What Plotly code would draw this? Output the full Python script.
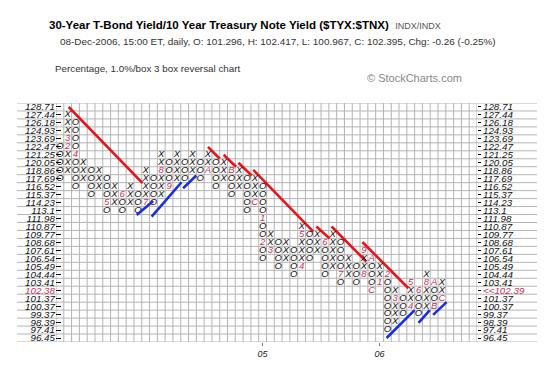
import plotly.graph_objects as go

# ---------------- data ----------------
box_values = [128.71, 127.44, 126.18, 124.93, 123.69, 122.47, 121.25, 120.05, 118.86, 117.69,
              116.52, 115.37, 114.23, 113.1, 111.98, 110.87, 109.77, 108.68, 107.61, 106.54,
              105.49, 104.44, 103.41, 102.38, 101.37, 100.37, 99.37, 98.39, 97.41, 96.45]
box_labels = ["128.71", "127.44", "126.18", "124.93", "123.69", "122.47", "121.25", "120.05", "118.86", "117.69",
              "116.52", "115.37", "114.23", "113.1", "111.98", "110.87", "109.77", "108.68", "107.61", "106.54",
              "105.49", "104.44", "103.41", "102.38", "101.37", "100.37", "99.37", "98.39", "97.41", "96.45"]
last_box = 102.38
last_label = "<<102.39"

col_kind = ["O", "X", "O", "X", "O", "X", "O", "X", "O", "X",
            "O", "X", "O", "X", "O", "X", "O", "X", "O", "X",
            "O", "X", "O", "X", "O", "X", "O", "X", "O", "X",
            "O", "X", "O", "X", "O", "X", "O", "X", "O", "X",
            "O", "X", "O", "X", "O", "X", "O", "X", "O", "X"]
col_high = [122.47, 127.44, 126.18, 120.05, 118.86, 118.86, 117.69, 116.52, 115.37, 116.52,
            115.37, 118.86, 117.69, 121.25, 120.05, 121.25, 120.05, 121.25, 120.05, 121.25,
            120.05, 120.05, 118.86, 118.86, 117.69, 117.69, 116.52, 109.77, 108.68, 108.68,
            107.61, 110.87, 109.77, 109.77, 108.68, 109.77, 108.68, 106.54, 105.49, 107.61,
            106.54, 105.49, 104.44, 102.38, 101.37, 103.41, 102.38, 104.44, 103.41, 103.41]
col_low = [117.69, 118.86, 116.52, 117.69, 115.37, 116.52, 113.1, 114.23, 113.1, 114.23,
           113.1, 114.23, 114.23, 115.37, 116.52, 117.69, 117.69, 118.86, 117.69, 118.86,
           116.52, 117.69, 115.37, 116.52, 113.1, 114.23, 106.54, 107.61, 105.49, 106.54,
           104.44, 105.49, 106.54, 107.61, 104.44, 105.49, 103.41, 104.44, 103.41, 104.44,
           102.38, 103.41, 97.41, 98.39, 99.37, 100.37, 99.37, 100.37, 100.37, 101.37]

# month markers (column, box value, month code)
month_col = [1, 1, 2, 6, 8, 11, 13, 14, 19, 22, 25,
             26, 26, 27, 31, 31, 34, 36, 39, 39, 40, 40,
             41, 42, 43, 45, 45, 46, 47, 48, 48, 49]
month_val = [123.69, 122.47, 121.25, 114.23, 115.37, 114.23, 118.86, 116.52, 118.86, 118.86, 114.23,
             111.98, 108.68, 107.61, 105.49, 109.77, 108.68, 104.44, 104.44, 107.61, 106.54, 102.38,
             103.41, 104.44, 101.37, 100.37, 103.41, 102.38, 103.41, 103.41, 100.37, 101.37]
month_txt = ["3", "2", "4", "5", "6", "7", "8", "9", "A", "B", "C",
             "1", "2", "3", "4", "5", "6", "7", "8", "9", "A", "C",
             "1", "2", "3", "4", "5", "6", "8", "A", "B", "C"]

year_cols = [26, 41]
year_labels = ["05", "06"]

# trend lines: column position / box-row position of the end points
red_col = [[1.13, 10.6], [19.0, 20.5], [21.0, 22.6], [22.9, 24.6], [24.8, 32.5],
           [32.9, 34.6], [34.85, 39.3], [38.8, 44.7]]
red_row = [[0.0, 9.55], [5.0, 6.5], [6.0, 7.5], [7.0, 8.6], [7.9, 15.65],
           [15.0, 16.5], [15.0, 19.4], [16.95, 22.75]]
blue_col = [[9.85, 11.97], [11.77, 15.6], [15.8, 17.5], [41.9, 45.5], [46.0, 47.45], [47.87, 49.6]]
blue_row = [[13.55, 11.8], [13.77, 9.45], [10.2, 8.6], [29.0, 25.5], [27.1, 25.5], [26.1, 24.5]]

title_main = "30-Year T-Bond Yield/10 Year Treasury Note Yield ($TYX:$TNX)"
title_tag = "INDX/INDX"
title_sub = "08-Dec-2006, 15:00 ET, daily, O: 101.296, H: 102.417, L: 100.967, C: 102.395, Chg: -0.26 (-0.25%)"
chart_note = "Percentage, 1.0%/box 3 box reversal chart"
credit = "© StockCharts.com"

# ---------------- build ----------------
FONT = "Liberation Sans, Arial, sans-serif"
MONTH_COLOR = "#c8325a"
n_cols = 54
row_of = {v: i for i, v in enumerate(box_values)}
marks = {(c, row_of[v]): t for c, v, t in zip(month_col, month_val, month_txt)}

bx, by, bt = [], [], []
for c, (k, hi, lo) in enumerate(zip(col_kind, col_high, col_low)):
    for r in range(row_of[hi], row_of[lo] + 1):
        if (c, r) in marks:
            continue
        bx.append(c)
        by.append(r)
        bt.append(k)

mx = [c for (c, r) in marks]
my = [r for (c, r) in marks]
mt = [marks[k] for k in marks]

def seg(cols, rows):
    xs, ys = [], []
    for cc, rr in zip(cols, rows):
        xs += cc + [None]
        ys += rr + [None]
    return xs, ys

rx, ry = seg(red_col, red_row)
blx, bly = seg(blue_col, blue_row)

fig = go.Figure()
fig.add_trace(go.Scatter(x=rx, y=ry, mode="lines", line=dict(color="#e8141c", width=2.6),
                         hoverinfo="skip", showlegend=False))
fig.add_trace(go.Scatter(x=blx, y=bly, mode="lines", line=dict(color="#1a2ee0", width=2.6),
                         hoverinfo="skip", showlegend=False, yaxis="y2"))
fig.add_trace(go.Scatter(x=bx, y=by, text=bt, mode="text",
                         textfont=dict(family=FONT, size=9.5, color="#111", style="italic"),
                         textposition="middle center", showlegend=False))
fig.add_trace(go.Scatter(x=mx, y=my, text=mt, mode="text",
                         textfont=dict(family=FONT, size=9.5, color=MONTH_COLOR, style="italic"),
                         textposition="middle center", showlegend=False))

last_row = row_of[last_box]
left_text = [f'<span style="color:{MONTH_COLOR}">{l}</span>' if i == last_row else l
             for i, l in enumerate(box_labels)]
right_text = [f'<span style="color:{MONTH_COLOR}">{last_label}</span>' if i == last_row else l
              for i, l in enumerate(box_labels)]

# the page body adds an 8px offset; layout is expressed in page pixels minus that offset
OFF = 8
W, H = 555 - OFF, 365 - OFF
L, T = 56 - OFF, 103 - OFF
R = W - (477 - OFF)
B = H - (342 - OFF)
pw, ph = W - L - R, H - T - B

def px(xp):
    return (xp - OFF - L) / pw

def py(yp):
    return (H - B - (yp - OFF)) / ph

shapes = []
grid_c = "#b4b4b4"
for i in range(len(box_values) + 1):
    y = i - 0.5
    shapes.append(dict(type="line", xref="paper", yref="y", x0=px(17), x1=px(537),
                       y0=y, y1=y, line=dict(color=grid_c, width=1), layer="below"))
for j in range(n_cols + 1):
    x = j - 0.5
    shapes.append(dict(type="line", xref="x", yref="y", x0=x, x1=x, y0=-0.5, y1=len(box_values) - 0.5,
                       line=dict(color=grid_c, width=1), layer="below"))

title_html = (f"<b>{title_main}</b>&nbsp;&nbsp;"
              f"<span style='font-size:9px;color:#555555'>{title_tag}</span>")

annotations = [
    dict(text=title_html, x=px(245), y=py(25), xanchor="center",
         font=dict(family=FONT, size=11.5, color="#000")),
    dict(text=title_sub, x=px(278), y=py(41), xanchor="center",
         font=dict(family=FONT, size=9.95, color="#333")),
    dict(text=chart_note, x=px(53), y=py(68.5), xanchor="left",
         font=dict(family=FONT, size=9.8, color="#333")),
    dict(text=credit, x=px(365), y=py(77.5), xanchor="left",
         font=dict(family=FONT, size=11, color="#888")),
]
for a in annotations:
    a.update(xref="paper", yref="paper", yanchor="middle", showarrow=False)

yrange = [len(box_values) - 0.5, -0.5]
fig.update_layout(
    width=W, height=H, margin=dict(l=L, r=R, t=T, b=B, autoexpand=False),
    paper_bgcolor="white", plot_bgcolor="white",
    shapes=shapes, annotations=annotations, showlegend=False,
    xaxis=dict(range=[-0.5, n_cols - 0.5], tickmode="array", tickvals=year_cols, ticktext=year_labels,
               ticks="outside", ticklen=3, tickcolor="#777", showgrid=False, zeroline=False, showline=False,
               tickfont=dict(family=FONT, size=9, color="#222", style="italic"), fixedrange=True),
    yaxis=dict(range=yrange, tickmode="array", tickvals=list(range(len(box_values))), ticktext=left_text,
               ticks="inside", ticklen=5, tickcolor="#000", showgrid=False, zeroline=False, showline=False,
               tickfont=dict(family=FONT, size=9.8, color="#111", style="italic"), fixedrange=True),
    yaxis2=dict(range=yrange, overlaying="y", side="right", tickmode="array",
                tickvals=list(range(len(box_values))), ticktext=right_text,
                ticks="outside", ticklen=3, tickcolor="#000", showgrid=False, zeroline=False, showline=False,
                tickfont=dict(family=FONT, size=9.8, color="#111", style="italic"), fixedrange=True),
)

fig.write_html("out.html")
